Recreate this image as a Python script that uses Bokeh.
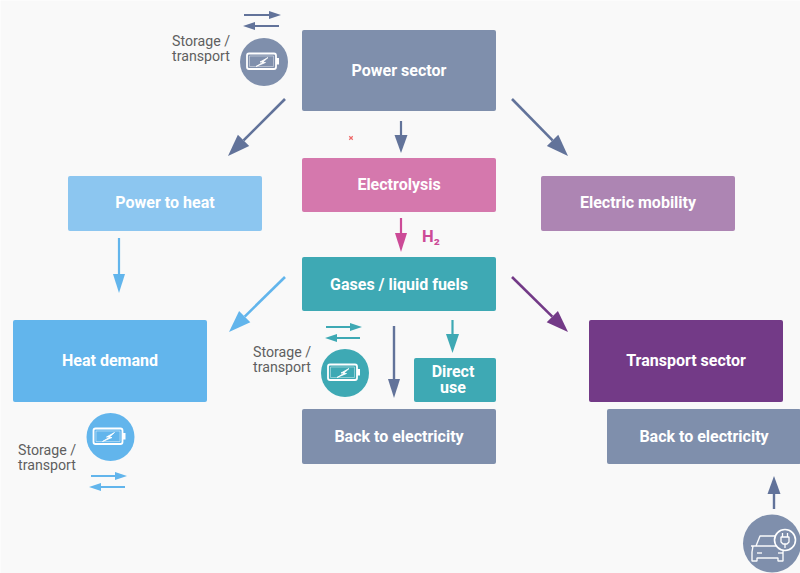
import math
from bokeh.plotting import figure
from bokeh.core.properties import value
from bokeh.embed import file_html
from bokeh.resources import INLINE

BG = "#f9f9f9"
SLATE, SLATE_D = "#7f8fac", "#62739a"
PINK, PINK_D = "#d578ad", "#cc4b97"
LIGHT, SKY = "#8cc6f0", "#62b5ec"
MAUVE, PURPLE = "#ad85b3", "#733a87"
TEAL = "#3ea9b4"
FONT = "Roboto"

box_labels = ["Power sector", "Electrolysis", "Power to heat", "Electric mobility",
              "Gases / liquid fuels", "Heat demand", "Transport sector",
              "Back to electricity", "Back to electricity"]
box_left = [302, 302, 68, 541, 302, 13, 589, 302, 607]
box_right = [496, 496, 262, 735, 496, 207, 783, 496, 801]
box_top = [30, 158, 176, 176, 257, 320, 320, 409, 409]
box_bottom = [111, 212, 231, 231, 311, 402, 402, 464, 464]
box_colors = [SLATE, PINK, LIGHT, MAUVE, TEAL, SKY, PURPLE, SLATE, SLATE]
label_y = [70.5, 184, 202, 202.5, 284, 360, 360, 436.5, 436.5]
direct_left, direct_right, direct_top, direct_bottom = [414], [496], [358], [402]

# x0, y0, x1, y1, colour, line width, head length, head width
arrows = [
    (285, 99, 228, 156, SLATE_D, 2.6, 22, 16),
    (401, 121, 401, 153, SLATE_D, 2.2, 18, 13),
    (512, 99, 568, 156, SLATE_D, 2.6, 22, 16),
    (401, 218, 401, 252, PINK_D, 2.2, 19, 12),
    (119, 238, 119, 293, SKY, 2.2, 19, 12),
    (285, 277, 229, 332, SKY, 2.6, 22, 16),
    (512, 277, 568, 332, PURPLE, 2.6, 22, 16),
    (394, 326, 394, 398, SLATE_D, 2.4, 19, 12),
    (452.5, 320, 452.5, 353, TEAL, 2.2, 19, 13),
    (244, 15, 281, 15, SLATE_D, 2.0, 12, 8),
    (279, 26, 243, 26, SLATE_D, 2.0, 12, 8),
    (326, 327, 362, 327, TEAL, 2.0, 12, 8),
    (360, 338, 325, 338, TEAL, 2.0, 12, 8),
    (91, 476, 127, 476, SKY, 2.0, 12, 8),
    (125, 487, 89, 487, SKY, 2.0, 12, 8),
    (774, 509, 774, 476, SLATE_D, 2.4, 18, 13),
]

circle_x = [264, 345, 110.5, 772]
circle_y = [62, 373, 437, 543.5]
circle_r = [24, 24, 24, 29]
circle_colors = [SLATE, TEAL, SKY, SLATE]
battery_centres = [(264, 62), (345, 373), (110.5, 437)]

note_lines = ["Storage /", "transport"] * 3
note_x = [172, 172, 253, 253, 18, 18]
note_y = [41, 56, 352, 367, 450, 465]

p = figure(width=800, height=573, x_range=(0.5, 800.5), y_range=(573.5, 0.5),
           output_backend="svg", toolbar_location=None, min_border=0,
           background_fill_color=BG, border_fill_color=BG, outline_line_color=None)
p.axis.visible = False
p.grid.visible = False

p.quad(left=box_left, right=box_right, top=box_top, bottom=box_bottom,
       fill_color=box_colors, line_color=None, border_radius=2)
p.quad(left=direct_left, right=direct_right, top=direct_top, bottom=direct_bottom,
       fill_color=TEAL, line_color=None, border_radius=2)

p.text(x=[(a + b) / 2 for a, b in zip(box_left, box_right)], y=label_y,
       text=box_labels, text_color="white", text_font=value(FONT), text_font_style="bold",
       text_font_size="16px", text_align="center", text_baseline="middle")

p.text(x=[453, 453], y=[371.5, 387], text=["Direct", "use"], text_color="white",
       text_font=value(FONT), text_font_style="bold", text_font_size="16px",
       text_align="center", text_baseline="middle")

# arrows
for x0, y0, x1, y1, c, w, hl, hw in arrows:
    L = math.hypot(x1 - x0, y1 - y0)
    ux, uy = (x1 - x0) / L, (y1 - y0) / L
    bx, by = x1 - ux * hl, y1 - uy * hl
    p.line([x0, bx], [y0, by], line_color=c, line_width=w)
    p.patch([x1, bx - uy * hw / 2, bx + uy * hw / 2], [y1, by + ux * hw / 2, by - ux * hw / 2],
            fill_color=c, line_color=None)

# round icons
p.circle(x=circle_x, y=circle_y, radius=circle_r, fill_color=circle_colors, line_color=None)

for cx, cy in battery_centres:
    p.quad(left=[cx - 17], right=[cx + 12], top=[cy - 8.5], bottom=[cy + 7], fill_color=None,
           line_color="white", line_width=1.8, border_radius=2)
    p.quad(left=[cx - 14.5], right=[cx + 9.5], top=[cy - 6], bottom=[cy + 4.5], fill_color=None,
           line_color="white", line_width=0.7, line_alpha=0.6)
    p.quad(left=[cx + 12], right=[cx + 15], top=[cy - 4], bottom=[cy + 2.5], fill_color="white",
           line_color=None)
    p.patch([cx + 4, cx - 4, cx - 0.5, cx - 8, cx + 1.5, cx - 1.5],
            [cy - 4.5, cy, cy, cy + 4.5, cy + 0.5, cy + 0.5],
            fill_color="white", line_color="white", line_width=0.8)

# car and plug icon
cx, cy = 772, 543
car_x = [[-16, -12, 4, 8], [-21, 13], [-19, -20, -20, -15, -15, 6, 6, 11, 11, 12],
         [-15, -10], [6, 11]]
car_y = [[3, -7, -7, 3], [3, 3], [3, 9, 18, 18, 15, 15, 18, 18, 9, 3], [10, 10], [10, 10]]
for xs, ys in zip(car_x, car_y):
    p.line([cx + v for v in xs], [cy + v for v in ys], line_color="white", line_width=1.4,
           line_alpha=0.95)
px, py = 785, 540
p.circle(x=[px], y=[py], radius=[10.5], fill_color=SLATE, line_color="white", line_width=1.6)
p.patch([px - 4, px + 4, px + 4, px + 2, px - 2, px - 4], [py - 3, py - 3, py + 2, py + 4, py + 4, py + 2],
        fill_color=None, line_color="white", line_width=1.3)
p.line([px - 2.5, px - 2.5], [py - 7, py - 3], line_color="white", line_width=1.3)
p.line([px + 2.5, px + 2.5], [py - 7, py - 3], line_color="white", line_width=1.3)
p.line([px, px], [py + 4, py + 8], line_color="white", line_width=1.3)

p.text(x=note_x, y=note_y, text=note_lines, text_color="#5f5f5f", text_font=value(FONT),
       text_font_size="14.2px", text_align="left", text_baseline="middle")
p.text(x=[422], y=[236.5], text=["H₂"], text_color=PINK_D, text_font=value(FONT),
       text_font_style="bold", text_font_size="16.5px", text_align="left", text_baseline="middle")
p.scatter(x=[351], y=[138], marker="x", size=5, line_color="#ee6a6a", line_width=1.2)

open("out.html", "w").write(file_html(p, INLINE))
